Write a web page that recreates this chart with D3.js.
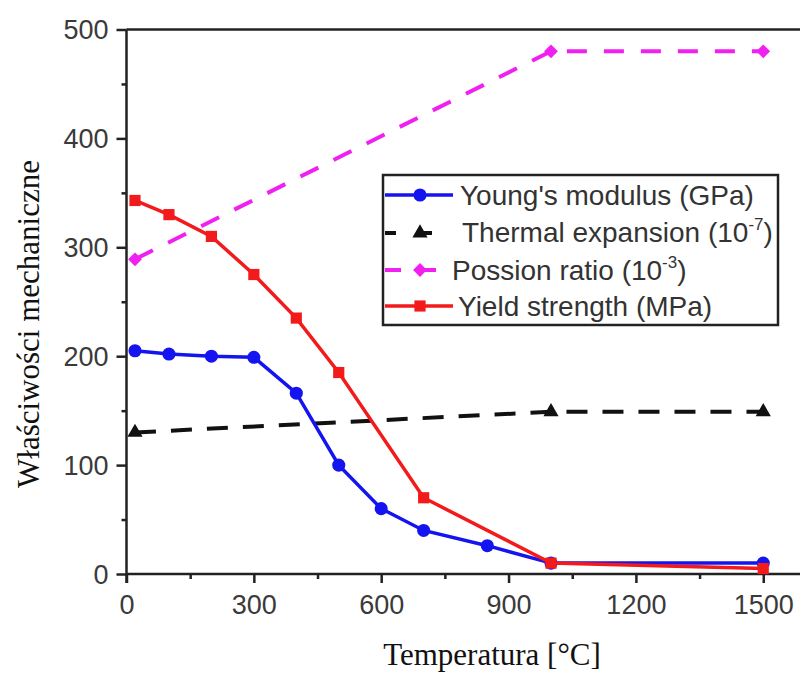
<!DOCTYPE html>
<html>
<head>
<meta charset="utf-8">
<script src="https://cdn.jsdelivr.net/npm/d3@7"></script>
<style>
  html, body { margin: 0; padding: 0; background: #fff; }
  svg { display: block; }
</style>
</head>
<body>
<script>
// ---- data ----
const youngTemps = [20, 100, 200, 300, 400, 500, 600, 700, 850, 1000, 1500];
const youngValues = [205, 202, 200, 199, 166, 100, 60, 40, 26, 10, 10];

const thermalTemps = [20, 1000, 1500];
const thermalValues = [130, 149, 149];

const poissonTemps = [20, 1000, 1500];
const poissonValues = [289, 480, 480];

const yieldTemps = [20, 100, 200, 300, 400, 500, 700, 1000, 1500];
const yieldValues = [343, 330, 310, 275, 235, 185, 70, 10, 5];

const xTicks = [0, 300, 600, 900, 1200, 1500];
const xMinorTicks = [150, 450, 750, 1050, 1350];
const yTicks = [0, 100, 200, 300, 400, 500];
const yMinorTicks = [50, 150, 250, 350, 450];

const seriesNames = ["Young's modulus (GPa)", "Thermal expansion (10", "Possion ratio (10", "Yield strength (MPa)"];

// ---- layout ----
const W = 800, H = 673;
const svg = d3.select("body").append("svg").attr("width", W).attr("height", H);

const x = d3.scaleLinear().domain([0, 1600]).range([126.5, 805.7]);
const y = d3.scaleLinear().domain([0, 500]).range([574, 29.5]);

const axisColor = "#222";
const tickFont = "'Liberation Sans', Arial, sans-serif";

// top frame
svg.append("line").attr("x1", x(0)).attr("x2", W).attr("y1", y(500)).attr("y2", y(500))
  .attr("stroke", axisColor).attr("stroke-width", 2.5);

// x axis
const gx = svg.append("g").attr("transform", `translate(0,${y(0)})`);
gx.call(d3.axisBottom(x).tickValues(xTicks).tickSize(9).tickPadding(12).tickFormat(d3.format("d")));
gx.append("g").call(d3.axisBottom(x).tickValues(xMinorTicks).tickSize(5).tickFormat(""))
  .select(".domain").remove();
gx.select(".domain").attr("d", `M${x(0)},0H${W}`);

// y axis
const gy = svg.append("g").attr("transform", `translate(${x(0)},0)`);
gy.call(d3.axisLeft(y).tickValues(yTicks).tickSize(10).tickPadding(8).tickFormat(d3.format("d")));
gy.append("g").call(d3.axisLeft(y).tickValues(yMinorTicks).tickSize(5).tickFormat(""))
  .select(".domain").remove();
gy.select(".domain").attr("d", `M0,${y(500)}V${y(0) + 9}`);

svg.selectAll(".domain, .tick line").attr("stroke", axisColor).attr("stroke-width", 2.5);
svg.selectAll(".tick text").attr("font-family", tickFont).attr("font-size", 27).attr("fill", "#3a3a3a");
gx.selectAll(".tick text").attr("dy", "0.71em");
gy.selectAll(".tick text").attr("dy", "0.35em");

// axis titles
svg.append("text").attr("x", 492).attr("y", 665).attr("text-anchor", "middle")
  .attr("font-family", "'Liberation Serif', 'Times New Roman', serif").attr("font-size", 31)
  .attr("fill", "#111").text("Temperatura [°C]");
svg.append("text").attr("transform", "translate(39,324) rotate(-90)").attr("text-anchor", "middle")
  .attr("font-family", "'Liberation Serif', 'Times New Roman', serif").attr("font-size", 31)
  .attr("fill", "#111").text("Właściwości mechaniczne");

// ---- series ----
const colors = { young: "#1414f0", thermal: "#111", poisson: "#f020f0", yield: "#f21a1a" };
const line = d3.line().x(d => x(d[0])).y(d => y(d[1]));
const zip = (a, b) => a.map((v, i) => [v, b[i]]);

const series = [
  { key: "poisson", data: zip(poissonTemps, poissonValues), dash: "20,17", w: 4, sym: d3.symbolSquare, size: 95, rot: 45 },
  { key: "thermal", data: zip(thermalTemps, thermalValues), dash: "21,15", w: 4, sym: d3.symbolTriangle, size: 100, rot: 0 },
  { key: "young", data: zip(youngTemps, youngValues), dash: null, w: 3.5, sym: d3.symbolCircle, size: 135, rot: 0 },
  { key: "yield", data: zip(yieldTemps, yieldValues), dash: null, w: 3.5, sym: d3.symbolSquare, size: 125, rot: 0 },
];

series.forEach(s => {
  svg.append("path").attr("d", line(s.data)).attr("fill", "none")
    .attr("stroke", colors[s.key]).attr("stroke-width", s.w)
    .attr("stroke-dasharray", s.dash);
  svg.append("g").selectAll("path").data(s.data).join("path")
    .attr("transform", d => `translate(${x(d[0])},${y(d[1])}) rotate(${s.rot})`)
    .attr("d", d3.symbol().type(s.sym).size(s.size))
    .attr("fill", colors[s.key]);
});

// ---- legend ----
const lg = svg.append("g");
lg.append("rect").attr("x", 383).attr("y", 175).attr("width", 395).attr("height", 150)
  .attr("fill", "#fff").attr("stroke", "#222").attr("stroke-width", 2.5);

const legendItems = [
  { key: "young", name: seriesNames[0], sup: null, suf: "", cy: 195, tx: 460, ty: 205, dash: null, w: 3.5, sym: d3.symbolCircle, size: 135, rot: 0 },
  { key: "thermal", name: seriesNames[1], sup: "-7", suf: ")", cy: 233, tx: 462, ty: 242, dash: "11,25", w: 4, sym: d3.symbolTriangle, size: 100, rot: 0 },
  { key: "poisson", name: seriesNames[2], sup: "-3", suf: ")", cy: 270, tx: 452, ty: 280, dash: "16,19", w: 4, sym: d3.symbolSquare, size: 95, rot: 45 },
  { key: "yield", name: seriesNames[3], sup: null, suf: "", cy: 306, tx: 458, ty: 316, dash: null, w: 3.5, sym: d3.symbolSquare, size: 125, rot: 0 },
];

legendItems.forEach(it => {
  lg.append("line").attr("x1", 385).attr("x2", 453).attr("y1", it.cy).attr("y2", it.cy)
    .attr("stroke", colors[it.key]).attr("stroke-width", it.w).attr("stroke-dasharray", it.dash);
  lg.append("path").attr("transform", `translate(420,${it.cy}) rotate(${it.rot})`)
    .attr("d", d3.symbol().type(it.sym).size(it.size)).attr("fill", colors[it.key]);
  const t = lg.append("text").attr("x", it.tx).attr("y", it.ty)
    .attr("font-family", tickFont).attr("font-size", 28).attr("fill", "#333");
  t.append("tspan").text(it.name);
  if (it.sup) {
    t.append("tspan").attr("font-size", 17).attr("dy", -12).text(it.sup);
    t.append("tspan").attr("dy", 12).text(it.suf);
  }
});
</script>
</body>
</html>
